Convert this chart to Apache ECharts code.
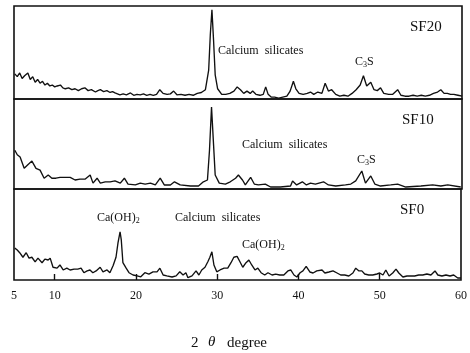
<!DOCTYPE html>
<html>
<head>
<meta charset="utf-8">
<script src="https://cdn.jsdelivr.net/npm/echarts@6/dist/echarts.min.js"></script>
<style>
  html, body { margin: 0; padding: 0; background: #fff; }
  #chart { width: 470px; height: 353px; }
</style>
</head>
<body>
<div id="chart"></div>
<script>
// XRD patterns (2θ in degrees, intensity in arbitrary units per panel)
const twoThetaSF20 = [5.1,5.4,5.7,6.0,6.3,6.7,7.0,7.3,7.6,7.9,8.2,8.5,8.8,9.1,9.4,9.7,10.0,10.3,10.7,11.0,11.3,11.7,12.1,12.5,12.9,13.3,13.7,14.1,14.5,15.0,15.3,15.6,16.0,16.4,16.8,17.1,17.4,17.7,18.0,18.4,18.8,19.3,19.7,20.1,20.5,20.9,21.3,21.7,22.1,22.5,22.9,23.3,23.8,24.2,24.6,25.0,25.5,26.0,26.5,27.0,27.5,28.0,28.5,28.9,29.1,29.3,29.5,29.7,30.0,30.5,31.0,31.5,32.0,32.4,32.8,33.2,33.6,34.0,34.3,34.7,35.2,35.6,35.9,36.2,36.6,37.0,37.5,38.0,38.5,38.9,39.3,39.6,40.0,40.5,41.0,41.4,41.8,42.3,42.8,43.2,43.6,44.0,44.5,45.0,45.5,46.0,46.5,47.0,47.5,47.9,48.3,48.8,49.2,49.6,50.0,50.4,51.0,51.5,52.1,52.5,53.0,53.5,54.0,54.5,55.0,55.5,56.0,56.5,57.0,57.4,57.8,58.2,58.6,59.0,59.5,60.0];
const intensitySF20 = [27,24,28,22,25,28,21,24,18,21,17,19,15,17,14,15,13,14,15,12,11,12,10,11,9,11,12,9,10,7.5,9,10,8,9,7,8,6.5,5.5,4.5,5.5,4.5,6.5,4,5,4.5,5.5,4,5,4,5,10,6,5,5.5,8.5,4.5,5,4,5,4,6,7,10,31,69,96,63,26,11,5,5,6,8.5,13,10,6,8.5,6,8.5,5,4,5,13,5,2,2,1,2,3,8.5,19,11,6,5,6,7.5,5,7.5,6,17,8.5,10,5,3,4,3,6,10,15,25,14,18,10,9,12,6,5,5,10,4,3,3,4,3,4,3,4,6,7.5,10,6,6,5,5,4,3];

const twoThetaSF10 = [5.1,5.4,5.75,6.25,6.7,7.2,7.7,8.2,8.7,9.2,9.65,10.15,10.65,11.25,11.9,12.5,13.1,13.75,14.35,14.7,15.2,15.6,16.2,16.8,17.4,18.05,18.55,19.0,19.9,20.5,21.1,21.75,22.35,22.95,23.45,24.2,24.7,25.4,26.65,27.65,28.25,28.75,29.0,29.25,29.5,29.7,30.2,30.95,31.55,32.2,32.55,33.05,33.4,34.05,34.5,35.0,35.85,36.5,37.7,38.95,39.2,39.7,40.4,40.9,41.4,42.0,43.0,43.6,44.5,45.7,46.35,46.95,47.7,48.15,48.8,49.3,50.0,51.25,52.1,53.1,54.95,56.4,57.4,58.25,59.85];
const intensitySF10 = [43,38,35.5,23,27,31,23,21,12,15.5,12,12,13,13,13,10,11,11,15.5,6.5,12,6.5,8,8,9,6.5,12,5.5,4.5,6.5,5.5,6.5,4.5,12,4.5,4.5,8,4.5,3.3,3.3,8,10,43,91,49,15.5,6.5,5.5,8,12,15.5,10,4.5,13,5.5,4.5,5.5,2.2,2.2,3.3,9,4.5,8,4.5,6.5,5.5,8,4.5,3.3,4.5,5.5,9,20,6.5,14.5,5.5,3.3,4.5,5.5,2.2,3.3,4.5,3.3,4.5,2.2];

const twoThetaSF0 = [5.1,5.4,5.7,6.1,6.5,6.85,7.2,7.6,7.95,8.45,8.8,9.2,9.45,9.8,10.3,10.65,11.05,11.5,11.9,12.4,12.85,13.25,13.6,14.0,14.35,14.7,15.1,15.6,15.95,16.45,16.8,17.2,17.55,17.8,18.05,18.2,18.4,18.8,19.15,19.65,20.15,20.6,21.1,21.6,22.1,22.6,22.95,23.35,23.8,24.45,24.95,25.4,25.8,26.15,26.4,26.9,27.4,27.75,28.1,28.5,28.85,29.1,29.35,29.6,29.95,30.35,30.85,31.3,31.7,32.05,32.45,32.8,33.15,33.55,33.9,34.25,34.65,35.0,35.4,35.85,36.25,36.75,37.2,37.7,38.2,38.7,39.05,39.45,39.8,40.2,40.55,40.95,41.4,41.8,42.25,42.9,43.25,43.75,44.25,44.75,45.2,45.7,46.2,46.7,47.05,47.45,47.8,48.15,48.65,49.15,49.65,50.0,50.4,50.75,51.15,51.6,52.0,52.35,52.85,53.35,53.85,54.3,54.8,55.3,55.8,56.3,56.8,57.15,57.65,58.15,58.65,59.1,59.6,60.0];
const intensitySF0 = [35,33,30,25,30,24,25,20,24,19,23,22,24,14,13,16.5,11,13,11,12,12,13,8,10,11,8,10,14,9,11,8,16,25,41,53,44,19,13,8,5.5,4.5,3.5,8,6.5,9,9,13,5.5,4.5,3.3,4.5,9,5.5,8,2.5,4.5,10,5.5,11,14,20,25,31,16.5,9,11,13,13,19,25,26,20,14,19,22,16.5,11,13,8,5.5,8,5.5,6.5,5.5,5.5,10,11,5.5,3.3,8,10,15,8.8,7.7,10,11,7.7,8.8,10,7.7,5.5,5.5,4.4,7.7,13,10,10,6.6,5.5,5.5,6.6,7.7,5.5,11,4.4,7.7,12,7.7,3.3,4.4,4.4,4.4,5.5,5.5,6.6,5.5,10,5.5,4.4,5.5,4.4,5.5,2.2,2.2];

const panelNames = ['SF20', 'SF10', 'SF0'];
const xTickLabels = [5, 10, 20, 30, 40, 50, 60];
const xTickMarks = [10, 20, 30, 40, 50];

const pairs = (xs, ys) => xs.map((x, i) => [x, ys[i]]);
const patterns = [
  pairs(twoThetaSF20, intensitySF20),
  pairs(twoThetaSF10, intensitySF10),
  pairs(twoThetaSF0, intensitySF0)
];

const SERIF = "'Liberation Serif', 'Times New Roman', serif";
const panelTops = [6, 99, 189];
const panelHeights = [93, 90, 91];

const grids = panelTops.map((t, i) => ({
  left: 14, width: 448, top: t, height: panelHeights[i],
  show: true, borderColor: '#111', borderWidth: 1.6, backgroundColor: 'transparent'
}));

const xAxes = patterns.map((_, i) => {
  const bottom = i === 2;
  return {
    type: 'value', gridIndex: i, min: 5, max: 60,
    axisLine: { show: false },
    splitLine: { show: false },
    axisTick: bottom ? { show: true, inside: true, length: 6, customValues: xTickMarks,
                          lineStyle: { color: '#111', width: 1.4 } } : { show: false },
    axisLabel: bottom ? { show: true, customValues: xTickLabels, margin: 10,
                          color: '#111', fontFamily: SERIF, fontSize: 12 } : { show: false }
  };
});

const yAxes = patterns.map((_, i) => ({
  type: 'value', gridIndex: i, min: 0, max: 100,
  axisLine: { show: false }, axisTick: { show: false },
  axisLabel: { show: false }, splitLine: { show: false }
}));

const series = patterns.map((d, i) => ({
  name: panelNames[i], type: 'line', xAxisIndex: i, yAxisIndex: i,
  data: d, showSymbol: false, silent: true, animation: false,
  lineStyle: { color: '#111', width: 1.35 }
}));

const txt = (x, y, text, size, extra) => ({
  type: 'text', x, y,
  style: Object.assign({ text, fill: '#111', font: size + 'px ' + SERIF,
                         textAlign: 'left', textVerticalAlign: 'middle' }, extra || {})
});
const sub = { rich: { s: { fontSize: 8, fontFamily: SERIF, verticalAlign: 'bottom', padding: [6, 0, 0, 0] } } };

const graphics = [
  txt(410, 27, 'SF20', 15),
  txt(402, 120, 'SF10', 15),
  txt(400, 210, 'SF0', 15),
  txt(218, 51, 'Calcium  silicates', 12),
  txt(242, 145, 'Calcium  silicates', 12),
  txt(175, 218, 'Calcium  silicates', 12),
  { type: 'text', x: 355, y: 62, style: Object.assign({ text: 'C{s|3}S', fill: '#111', font: '12px ' + SERIF, textVerticalAlign: 'middle' }, sub) },
  { type: 'text', x: 357, y: 160, style: Object.assign({ text: 'C{s|3}S', fill: '#111', font: '12px ' + SERIF, textVerticalAlign: 'middle' }, sub) },
  { type: 'text', x: 97, y: 218, style: Object.assign({ text: 'Ca(OH){s|2}', fill: '#111', font: '12px ' + SERIF, textVerticalAlign: 'middle' }, sub) },
  { type: 'text', x: 242, y: 245, style: Object.assign({ text: 'Ca(OH){s|2}', fill: '#111', font: '12px ' + SERIF, textVerticalAlign: 'middle' }, sub) },
  // axis title: "2θ degree"
  txt(191, 343, '2', 15),
  txt(208, 342, 'θ', 15, { font: 'italic 15px ' + SERIF }),
  txt(227, 343, 'degree', 15)
];

const chart = echarts.init(document.getElementById('chart'), null, { renderer: 'canvas' });
chart.setOption({
  backgroundColor: '#fff',
  animation: false,
  grid: grids,
  xAxis: xAxes,
  yAxis: yAxes,
  series: series,
  graphic: graphics
});
</script>
</body>
</html>
